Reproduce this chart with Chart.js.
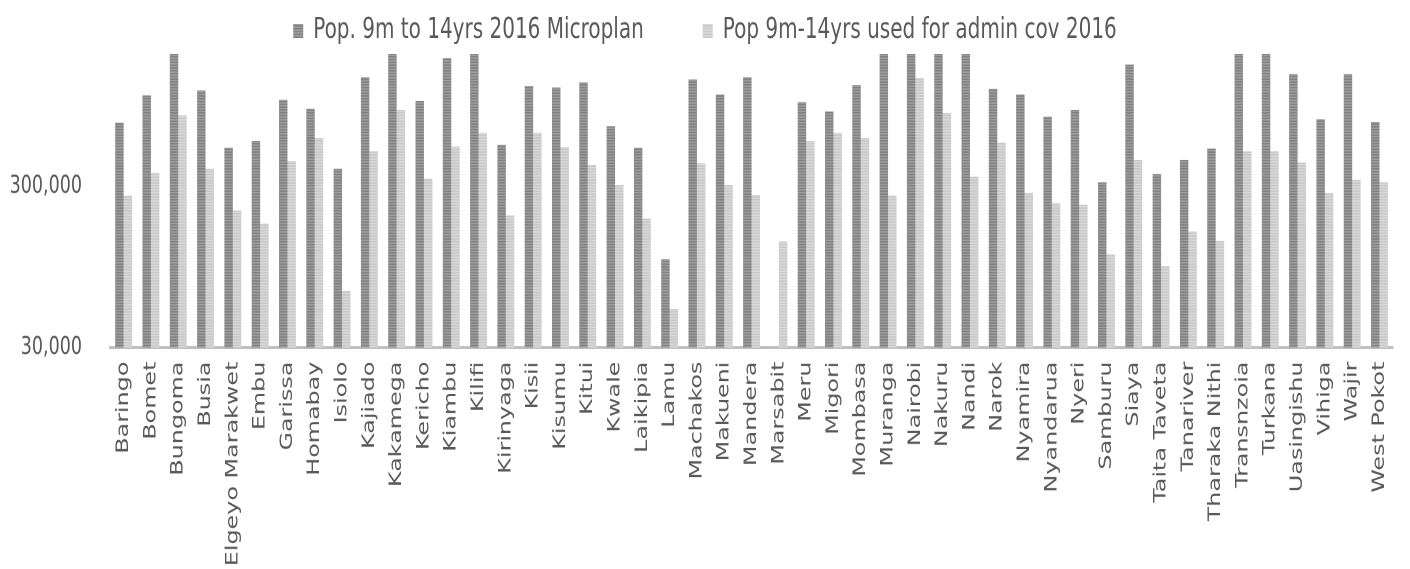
<!DOCTYPE html>
<html>
<head>
<meta charset="utf-8">
<script src="https://cdn.jsdelivr.net/npm/chart.js@4"></script>
<style>
  html, body { margin: 0; padding: 0; background: #fff; }
  body { width: 1410px; height: 569px; }
  /* the reference is stretched vertically, so the chart is drawn flat and scaled */
  #wrap { width: 1410px; height: 406px; transform: scaleY(1.4015); transform-origin: 0 0; }
  canvas { display: block; }
</style>
</head>
<body>
<div id="wrap"><canvas id="chart" width="1410" height="406"></canvas></div>
<script>
// Data
const counties = ['Baringo', 'Bomet', 'Bungoma', 'Busia', 'Elgeyo Marakwet', 'Embu', 'Garissa', 'Homabay',
  'Isiolo', 'Kajiado', 'Kakamega', 'Kericho', 'Kiambu', 'Kilifi', 'Kirinyaga', 'Kisii', 'Kisumu', 'Kitui',
  'Kwale', 'Laikipia', 'Lamu', 'Machakos', 'Makueni', 'Mandera', 'Marsabit', 'Meru', 'Migori', 'Mombasa',
  'Muranga', 'Nairobi', 'Nakuru', 'Nandi', 'Narok', 'Nyamira', 'Nyandarua', 'Nyeri', 'Samburu', 'Siaya',
  'Taita Taveta', 'Tanariver', 'Tharaka Nithi', 'Transnzoia', 'Turkana', 'Uasingishu', 'Vihiga', 'Wajir',
  'West Pokot'];

const microplanPop = [748000, 1104000, 2300000, 1186000, 524000, 577000, 1037000, 913000,
  387000, 1432000, 2500000, 1023000, 1885000, 2200000, 545000, 1261000, 1238000, 1334000,
  711000, 524000, 106000, 1386000, 1120000, 1432000, null, 1004000, 880000, 1284000,
  2300000, 3000000, 2200000, 2100000, 1214000, 1120000, 815000, 896000, 319000, 1716000,
  359000, 440000, 517000, 2200000, 2400000, 1501000, 785000, 1501000,
  756000];

const adminCovPop = [264000, 366000, 831000, 387000, 213000, 177000, 432000, 600000,
  67800, 496000, 896000, 337000, 532000, 646000, 199000, 646000, 527000, 410000,
  307000, 190000, 52000, 418000, 307000, 267000, 137000, 577000, 646000, 600000,
  264000, 1418000, 862000, 346000, 563000, 274000, 237000, 231000, 114000, 440000,
  96000, 158000, 138000, 496000, 496000, 424000, 274000, 330000,
  319000];

const seriesNames = ['Pop. 9m to 14yrs 2016 Microplan', 'Pop 9m-14yrs used for admin cov 2016'];
const yTicks = [30000, 300000];

// striped fills like the original
function stripes(c1, c2) {
    const pc = document.createElement('canvas');
    pc.width = 2;
    pc.height = 2;
    const g = pc.getContext('2d');
    g.fillStyle = c1;
    g.fillRect(0, 0, 2, 1);
    g.fillStyle = c2;
    g.fillRect(0, 1, 2, 1);
    return g.createPattern(pc, 'repeat');
}

const FONT = "'DejaVu Sans', Verdana, sans-serif";
const TEXT = '#595959';

const ctx = document.getElementById('chart').getContext('2d');
new Chart(ctx, {
    type: 'bar',
    data: {
        labels: counties,
        datasets: [{
            label: seriesNames[0],
            data: microplanPop,
            backgroundColor: stripes('#767676', '#a9a9a9'),
            borderWidth: 0,
            categoryPercentage: 0.62,
            barPercentage: 1.0
        }, {
            label: seriesNames[1],
            data: adminCovPop,
            backgroundColor: stripes('#c2c2c2', '#e0e0e0'),
            borderWidth: 0,
            categoryPercentage: 0.62,
            barPercentage: 1.0
        }]
    },
    options: {
        responsive: false,
        animation: false,
        devicePixelRatio: 2,
        layout: {
            padding: { top: -47.5, left: 11, right: 11, bottom: 0 }
        },
        plugins: {
            tooltip: { enabled: false },
            legend: {
                position: 'top',
                align: 'center',
                maxHeight: 85.5,
                labels: {
                    boxWidth: 10,
                    boxHeight: 10,
                    padding: 59,
                    color: TEXT,
                    font: { family: FONT, size: 20 }
                }
            }
        },
        scales: {
            x: {
                grid: { display: false, drawTicks: false },
                border: { display: true, color: '#bfbfbf', width: 2 },
                afterFit: (scale) => { scale.height = 158; },
                ticks: {
                    autoSkip: false,
                    minRotation: 90,
                    maxRotation: 90,
                    padding: 10,
                    color: TEXT,
                    font: { family: FONT, size: 17 }
                }
            },
            y: {
                type: 'logarithmic',
                min: 30000,
                max: 2000000,
                grid: { display: false, drawTicks: false },
                border: { display: false },
                afterBuildTicks: (scale) => {
                    scale.ticks = yTicks.map(v => ({ value: v }));
                },
                afterFit: (scale) => { scale.width = 99; },
                ticks: {
                    padding: 28,
                    color: TEXT,
                    font: { family: FONT, size: 17.5 },
                    callback: (v) => Number(v).toLocaleString('en-US')
                }
            }
        }
    }
});
</script>
</body>
</html>
